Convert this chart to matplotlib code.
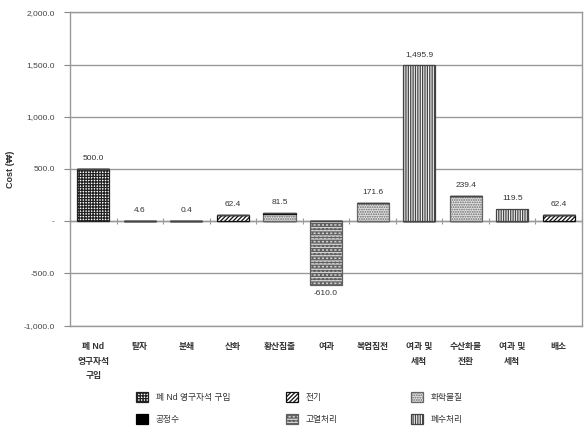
import matplotlib
matplotlib.use("Agg")
import matplotlib.pyplot as plt
import numpy as np

plt.rcParams['font.family'] = ['Liberation Sans', 'Noto Sans CJK KR', 'DejaVu Sans']
plt.rcParams['hatch.linewidth'] = 0.9

categories = ["폐 Nd\n영구자석\n구입", "탈자", "분쇄", "산화", "황산침출", "여과",
              "복염침전", "여과 및\n세척", "수산화물\n전환", "여과 및\n세척", "배소"]

purchase   = [500.0, 0, 0, 0, 0, 0, 0, 0, 0, 0, 0]
electric   = [0, 4.6, 0.4, 62.4, 0, 0, 0, 0, 0, 0, 62.4]
chemical   = [0, 0, 0, 0, 69.5, 0, 171.6, 0, 239.4, 0, 0]
water      = [0, 0, 0, 0, 12.0, 0, 0, 0, 0, 0, 0]
heat       = [0, 0, 0, 0, 0, -610.0, 0, 0, 0, 0, 0]
wastewater = [0, 0, 0, 0, 0, 0, 0, 1495.9, 0, 119.5, 0]

series_names = ["폐 Nd 영구자석 구입", "전기", "화학물질", "공정수", "고열처리", "폐수처리"]
series_vals = [purchase, electric, chemical, water, heat, wastewater]

yticks = [-1000, -500, 0, 500, 1000, 1500, 2000]
yticklabels = ["-1,000.0", "-500.0", "-", "500.0", "1,000.0", "1,500.0", "2,000.0"]

styles = [
    dict(facecolor="white", edgecolor="#222222", hatch="++++++"),
    dict(facecolor="white", edgecolor="#111111", hatch="////////"),
    dict(facecolor="#e6e6e6", edgecolor="#666666", hatch="......."),
    dict(facecolor="black", edgecolor="black", hatch=None),
    dict(facecolor="#d4d4d4", edgecolor="#606060", hatch="------...."),
    dict(facecolor="#f2f2f2", edgecolor="#444444", hatch="|||||||"),
]

fig = plt.figure(figsize=(5.87, 4.30), dpi=100)
ax = fig.add_axes([0.1193, 0.243, 0.8722, 0.728])

x = np.arange(len(categories))
width = 0.69
pos_bottom = np.zeros(len(categories))
neg_bottom = np.zeros(len(categories))
handles = []
for name, vals, st in zip(series_names, series_vals, styles):
    v = np.array(vals, dtype=float)
    bottom = np.where(v >= 0, pos_bottom, neg_bottom)
    bars = ax.bar(x, v, width, bottom=bottom, label=name, linewidth=0.9, zorder=3, **st)
    handles.append(bars)
    pos_bottom += np.where(v > 0, v, 0)
    neg_bottom += np.where(v < 0, v, 0)

totals = np.array(series_vals).sum(axis=0)
for xi, t in zip(x, totals):
    if t >= 0:
        ax.annotate(f"{t:,.1f}", (xi, t), xytext=(0, 5), textcoords="offset points",
                    ha="center", va="bottom", fontsize=6, color="#333333")
    else:
        ax.annotate(f"{t:,.1f}", (xi, t), xytext=(0, -4), textcoords="offset points",
                    ha="center", va="top", fontsize=6, color="#333333")

ax.set_xlim(-0.5, len(categories) - 0.5)
ax.set_ylim(-1000, 2000)
ax.set_yticks(yticks)
ax.set_yticklabels(yticklabels, fontsize=6, color="#444444")
ax.yaxis.grid(True, color="#9a9a9a", linewidth=1.0, zorder=0)
ax.set_axisbelow(True)
ax.tick_params(axis="y", length=4, color="#888888", pad=7)

ax.set_xticks(x)
ax.set_xticklabels(categories, fontsize=6.3, fontweight="bold", color="#333333", linespacing=1.8)
ax.tick_params(axis="x", length=0, pad=12)

for s in ax.spines.values():
    s.set_color("#9a9a9a")
    s.set_linewidth(1.0)

# zero axis line with cross ticks at category boundaries
ax.axhline(0, color="#9a9a9a", linewidth=1.0, zorder=2)
sec = ax.secondary_xaxis(1 / 3)
sec.set_xticks(np.arange(len(categories) + 1) - 0.5)
sec.set_xticklabels([])
sec.tick_params(axis="x", direction="inout", length=5, color="#9a9a9a")
sec.spines["bottom"].set_visible(False)
sec.spines["top"].set_visible(False)

ax.set_ylabel("Cost (₩)", fontsize=6.5, fontweight="bold", color="#333333", labelpad=6)

# legend: three columns placed separately
col_groups = [[0, 3], [1, 4], [2, 5]]
col_x = [0.218, 0.473, 0.686]
for grp, cx in zip(col_groups, col_x):
    leg = fig.legend([handles[i] for i in grp], [series_names[i] for i in grp],
                     loc="lower left", bbox_to_anchor=(cx, -0.005),
                     frameon=False, fontsize=6.3, handlelength=1.4, handleheight=1.4,
                     labelspacing=1.4, handletextpad=0.9, borderpad=0.4)
    for t in leg.get_texts():
        t.set_color("#333333")

fig.savefig("out.png", dpi=100)
